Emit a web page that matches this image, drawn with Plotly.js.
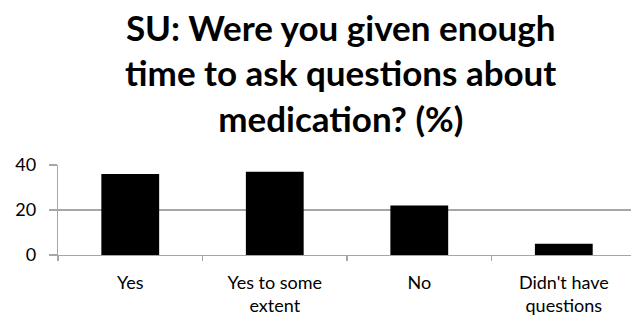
<!DOCTYPE html>
<html>
<head>
<meta charset="utf-8">
<script src="https://cdn.plot.ly/plotly-3.0.1.min.js"></script>
<style>html,body{margin:0;padding:0;background:#fff;}#chart{width:631px;height:319px;}</style>
</head>
<body>
<div id="chart"></div>
<script>
const categories = ["Yes", "Yes to some<br>extent", "No", "Didn't have<br>questions"];
const values = [36, 37, 22, 5];
const yTicks = [0, 20, 40];
const titleText = "SU: Were you given enough<br>time to ask questions about<br>medication? (%)";

const gridColor = "#a6a6a6";
const fontFam = "Lato, 'Open Sans', sans-serif";

const data = [{
  type: "bar",
  x: categories,
  y: values,
  width: 0.4,
  marker: {color: "#000000", line: {color: "#000000", width: 0}},
  hoverinfo: "none"
}];

const layout = {
  width: 631,
  height: 319,
  margin: {l: 58, r: 0, t: 165, b: 64, pad: 0},
  paper_bgcolor: "#ffffff",
  plot_bgcolor: "#ffffff",
  showlegend: false,
  title: {
    text: titleText,
    font: {family: fontFam, size: 35, color: "#000000", weight: 700},
    x: 0.54, xref: "container", xanchor: "center",
    y: 0.872, yref: "container", yanchor: "top"
  },
  xaxis: {
    type: "category",
    range: [-0.5, 3.465],
    showgrid: false,
    showline: true,
    linecolor: gridColor,
    linewidth: 1.3,
    ticks: "outside",
    tickson: "boundaries",
    ticklen: 5,
    tickcolor: gridColor,
    tickwidth: 1.3,
    ticklabelstandoff: 11,
    tickfont: {family: fontFam, size: 18, color: "#000000"},
    zeroline: false,
    fixedrange: true
  },
  yaxis: {
    range: [0, 40],
    tickvals: yTicks,
    ticktext: yTicks.map(String),
    showgrid: true,
    gridcolor: gridColor,
    gridwidth: 1.3,
    showline: true,
    linecolor: gridColor,
    linewidth: 1.3,
    ticks: "outside",
    ticklen: 8,
    tickcolor: gridColor,
    tickwidth: 1.3,
    ticklabelstandoff: 9,
    tickfont: {family: fontFam, size: 18, color: "#000000"},
    zeroline: false,
    fixedrange: true
  }
};

Plotly.newPlot("chart", data, layout, {displayModeBar: false, staticPlot: true});
</script>
</body>
</html>
